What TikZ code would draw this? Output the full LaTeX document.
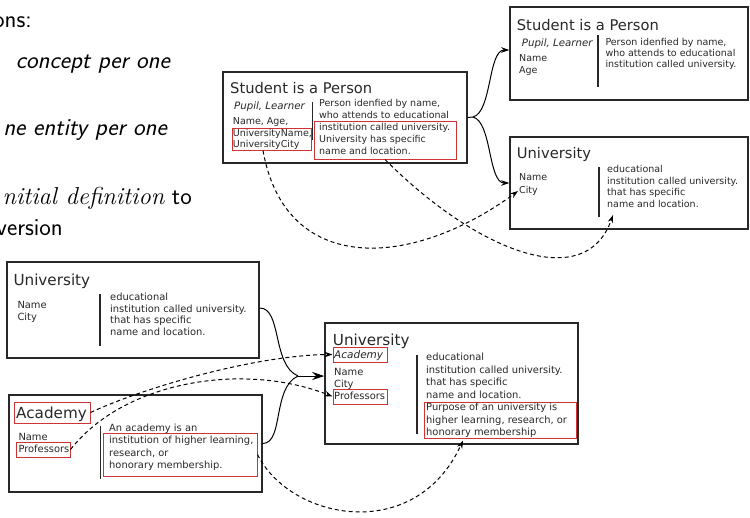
\documentclass[tikz,border=0pt]{standalone}
\usepackage{fontspec}
\usetikzlibrary{arrows.meta,fit}
\newfontfamily\boxfont{DejaVu Sans}
\definecolor{markred}{RGB}{206,52,52}
\definecolor{ink}{RGB}{40,40,40}
% left-aligned stack of lines whose baseline is the first line
\newcommand\txtlines[1]{\begin{tabular}[t]{@{}l@{}}#1\end{tabular}}

\begin{document}
\begin{tikzpicture}[x=1pt,y=-1pt,
  frame/.style={draw=ink,line width=1.5pt,inner sep=0pt},
  markbox/.style={draw=markred,line width=1pt,inner sep=0pt},
  divider/.style={draw=ink,line width=1.3pt},
  slide/.style={inner sep=0pt,anchor=base east,text=black,
    font=\sffamily\fontsize{24.5}{30}\selectfont},
  ttl/.style={inner sep=0pt,anchor=base west,text=ink,
    font=\boxfont\fontsize{14.7}{17}\selectfont},
  ttlb/.style={inner sep=0pt,anchor=base west,text=ink,
    font=\boxfont\fontsize{15.2}{18}\selectfont},
  alias/.style={inner sep=0pt,anchor=base west,text=ink,
    font=\boxfont\itshape\fontsize{10.2}{12}\selectfont},
  aliasb/.style={inner sep=0pt,anchor=base west,text=ink,
    font=\boxfont\itshape\fontsize{10.5}{12}\selectfont},
  bodyt/.style={inner sep=0pt,anchor=base west,text=ink,
    font=\boxfont\fontsize{9.5}{#1}\selectfont},
  bodyb/.style={inner sep=0pt,anchor=base west,text=ink,
    font=\boxfont\fontsize{9.9}{#1}\selectfont},
  link/.style={draw=black,line width=1pt},
  tip/.style={-{Stealth[length=8pt,width=5.5pt]}},
  bigtip/.style={-{Stealth[length=12pt,width=8pt]}},
  dashedlink/.style={link,dash pattern=on 4pt off 3pt,tip},
]
\useasboundingbox (0,0) rectangle (750,517);
\clip (0,0) rectangle (750,517);
\fill[white] (0,0) rectangle (750,517);

% ---- slide text on the left ----
\node[slide] (s1) at (32,27.3) {ons:};
\node[slide] (s2) at (170,68) {\itshape concept per one};
\node[slide] (s3) at (167,135) {\itshape ne entity per one};
\node[slide] (s4) at (192,204) {{\rmfamily\itshape nitial definition} to};
\node[slide] (s5) at (63,235) {version};

% ---- entity frames ----
\node[frame,fit={(223,72)(467,163)}] (A) {};
\node[frame,fit={(510,7)(748,100)}] (B) {};
\node[frame,fit={(510,137)(748,229)}] (C) {};
\node[frame,fit={(7,262)(259,358)}] (D) {};
\node[frame,fit={(9,395)(262,492)}] (E) {};
\node[frame,fit={(325,323)(578,444)}] (F) {};

% ---- highlighted parts ----
\node[markbox,fit={(232,128)(311,150)}] (aKeys) {};
\node[markbox,fit={(314,121)(456,159)}] (aDesc) {};
\node[markbox,fit={(14,402)(90,423)}] (eTitle) {};
\node[markbox,fit={(16,442)(70,457)}] (eProf) {};
\node[markbox,fit={(103,433)(257,476)}] (eDesc) {};
\node[markbox,fit={(333,347)(387,362)}] (fAcad) {};
\node[markbox,fit={(333,389)(387,404)}] (fProf) {};
\node[markbox,fit={(424,402)(576,438)}] (fDesc) {};

% ---- Student is a Person (combined) ----
\node[ttl] (aT) at (230,93) {Student is a Person};
\node[alias] (aAlias) at (234,109) {Pupil, Learner};
\node[bodyt=11.5] (aKeysTxt) at (232.7,124.5) {\txtlines{Name, Age,\\UniversityName,\\UniversityCity}};
\node[bodyt=11.5] (aDescTop) at (319,106.5) {\txtlines{Person idenfied by name,\\who attends to educational}};
\node[bodyt=12.2] (aDescTxt) at (319,130) {\txtlines{institution called university.\\University has specific\\name and location.}};
\draw[divider] (312.5,102) -- (312.5,140);

% ---- Student is a Person (split) ----
\node[ttl] (bT) at (516.7,30) {Student is a Person};
\node[alias] (bAlias) at (521.7,46) {Pupil, Learner};
\node[bodyt=12] (bKeys) at (519,61.5) {\txtlines{Name\\Age}};
\node[bodyt=11] (bDesc) at (605.3,45.3) {\txtlines{Person idenfied by name,\\who attends to educational\\institution called university.}};
\draw[divider] (598,35) -- (598,87);

% ---- University (split) ----
\node[ttl] (cT) at (516.7,158) {University};
\node[bodyt=13] (cKeys) at (519,180.5) {\txtlines{Name\\City}};
\node[bodyt=11.5] (cDesc) at (607,172.5) {\txtlines{educational\\institution called university.\\that has specific\\name and location.}};
\draw[divider] (599,167) -- (599,217);

% ---- University (before merge) ----
\node[ttlb] (dT) at (13.3,285) {University};
\node[bodyb=12] (dKeys) at (17.3,308.5) {\txtlines{Name\\City}};
\node[bodyb=11.5] (dDesc) at (110,300.5) {\txtlines{educational\\institution called university.\\that has specific\\name and location.}};
\draw[divider] (100,294) -- (100,346);

% ---- Academy ----
\node[ttlb] (eT) at (16,418.5) {Academy};
\node[bodyb=12] (eKeys) at (18.3,440.5) {\txtlines{Name\\Professors}};
\node[bodyb=12.3] (eDescTxt) at (109,431.5) {\txtlines{An academy is an\\institution of higher learning,\\research, or\\honorary membership.}};
\draw[divider] (100.7,426) -- (100.7,479);

% ---- University (merged) ----
\node[ttlb] (fT) at (332.7,345.5) {University};
\node[aliasb] (fAlias) at (334,358) {Academy};
\node[bodyb=12] (fKeys) at (334,375.5) {\txtlines{Name\\City\\Professors}};
\node[bodyb=12.5] (fDescTxt) at (426,360.5) {\txtlines{educational\\institution called university.\\that has specific\\name and location.\\Purpose of an university is\\higher learning, research, or\\honorary membership}};
\draw[divider] (417,355) -- (417,434);

% ---- split connectors ----
\coordinate (m1) at (473,117);
\draw[link] (A.east) -- (m1);
\draw[link,tip] (m1) .. controls (492,112) and (488,50) .. ([yshift=3.5pt]B.west);
\draw[link,tip] (m1) .. controls (492,122) and (488,183) .. (C.west);
\coordinate (cCity) at (518,191);
\coordinate (cText) at (613,215);
\draw[dashedlink] ([xshift=-8.5pt]aKeys.south) .. controls (285,275) and (410,270) .. (cCity);
\draw[dashedlink] (aDesc.south) .. controls (475,250) and (585,295) .. (cText);

% ---- merge connectors ----
\coordinate (m2) at (298,376);
\draw[link] ([yshift=2pt]D.east) .. controls (282,308) and (272,365) .. (m2);
\draw[link] (E.east) .. controls (284,443) and (272,388) .. (m2);
\draw[link,bigtip] (m2) -- ([yshift=7.5pt]F.west);
\draw[dashedlink] (eTitle.east) .. controls (150,385) and (260,355) .. (fAcad.west);
\draw[dashedlink] (eProf.east) .. controls (125,380) and (245,362) .. (fProf.west);
\draw[dashedlink] (eDesc.east) .. controls (290,520) and (415,545) .. ([xshift=-37pt,yshift=-2pt]fDesc.south);
\end{tikzpicture}
\end{document}
